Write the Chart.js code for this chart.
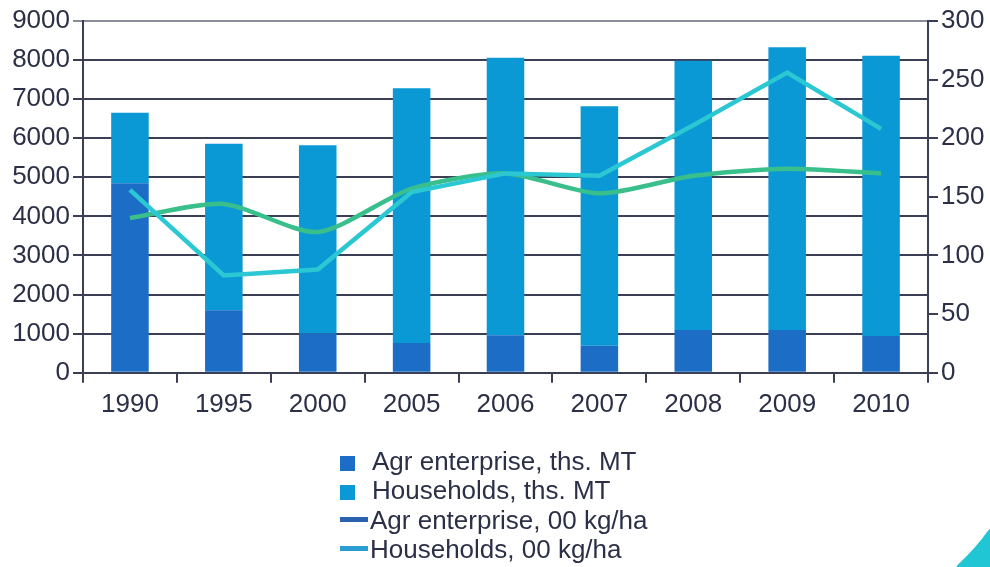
<!DOCTYPE html>
<html>
<head>
<meta charset="utf-8">
<script src="https://cdn.jsdelivr.net/npm/chart.js@4.4.1/dist/chart.umd.min.js"></script>
<style>
  html, body { margin: 0; padding: 0; background: #fff; }
  #wrap { position: relative; width: 990px; height: 567px; overflow: hidden; }
  #c { position: absolute; left: 0; top: 0; }
  #legend { position: absolute; left: 340px; top: 447px; font-family: "Liberation Sans", Arial, sans-serif; font-size: 26px; color: #2b3047; }
  .item { height: 29.3px; line-height: 29.3px; white-space: nowrap; position: relative; }
  .sq { display: inline-block; width: 15px; height: 15px; margin-right: 17px; vertical-align: -1px; }
  .ln { display: inline-block; width: 28px; height: 5px; margin-right: 2px; vertical-align: 7px; }
  #corner { position: absolute; left: 950px; top: 520px; width: 40px; height: 47px; background: #20c6d3;
            clip-path: polygon(100% 18%, 92% 26%, 80% 40%, 60% 60%, 40% 78%, 22% 93%, 15% 100%, 100% 100%); }
</style>
</head>
<body>
<div id="wrap">
  <canvas id="c" width="990" height="567"></canvas>
  <div id="legend"></div>
  <div id="corner"></div>
</div>
<script>
const categories = ['1990','1995','2000','2005','2006','2007','2008','2009','2010'];
const agrTons = [4850, 1600, 1000, 760, 960, 690, 1090, 1090, 940];
const hhTons = [1800, 4260, 4820, 6520, 7100, 6130, 6890, 7240, 7170];
const agrKgHa = [132, 144, 120, 157, 170, 153, 168, 174, 170];
const hhKgHa = [156, 83, 88, 154, 170, 168, 211, 256, 208];
const leftTicks = [0, 1000, 2000, 3000, 4000, 5000, 6000, 7000, 8000, 9000];
const rightTicks = [0, 50, 100, 150, 200, 250, 300];

const seriesNames = ['Agr enterprise, ths. MT', 'Households, ths. MT', 'Agr enterprise, 00 kg/ha', 'Households, 00 kg/ha'];
const barColors = ['#1b6dc6', '#0b99d6'];
const lineColors = ['#38bf8b', '#2bc7d2'];
const legendColors = ['#1b6dc6', '#0b99d6', '#2a62ae', '#2a9ed4'];

const txt = '#2b3047';
const grid = '#3a3f55';
const font = { family: '"Liberation Sans", Arial, sans-serif', size: 26 };

new Chart(document.getElementById('c'), {
  data: {
    labels: categories,
    datasets: [
      { type: 'line', label: seriesNames[3], data: hhKgHa, yAxisID: 'y2', borderColor: lineColors[1], borderWidth: 4.5, pointRadius: 0, tension: 0, order: 1 },
      { type: 'line', label: seriesNames[2], data: agrKgHa, yAxisID: 'y2', borderColor: lineColors[0], borderWidth: 4.5, pointRadius: 0, tension: 0.25, order: 2 },
      { type: 'bar', label: seriesNames[0], data: agrTons, yAxisID: 'y', backgroundColor: barColors[0], stack: 's', barPercentage: 0.5, categoryPercentage: 0.8, order: 3 },
      { type: 'bar', label: seriesNames[1], data: hhTons, yAxisID: 'y', backgroundColor: barColors[1], stack: 's', barPercentage: 0.5, categoryPercentage: 0.8, order: 4 }
    ]
  },
  options: {
    responsive: false,
    animation: false,
    devicePixelRatio: 1,
    layout: { padding: { top: 21, left: 0, right: 0, bottom: 0 } },
    plugins: { legend: { display: false }, tooltip: { enabled: false } },
    scales: {
      x: {
        stacked: true,
        offset: true,
        grid: { offset: true, drawOnChartArea: false, drawTicks: true, tickLength: 10, color: grid, lineWidth: 2 },
        border: { color: grid, width: 2 },
        ticks: { color: txt, font: font, padding: 7, maxRotation: 0 },
        afterFit: (s) => { s.height = 194.3; }
      },
      y: {
        position: 'left',
        stacked: true,
        min: 0, max: 9000,
        afterBuildTicks: (s) => { s.ticks = leftTicks.map(v => ({ value: v })); },
        grid: { color: (ctx) => ctx.tick && ctx.tick.value === 9000 ? '#8a8d99' : grid, lineWidth: 2, tickLength: 10, drawTicks: true },
        border: { color: grid, width: 2 },
        ticks: { color: txt, font: font, padding: 3, callback: (v) => String(v) },
        afterFit: (s) => { s.width = 83; }
      },
      y2: {
        position: 'right',
        min: 0, max: 300,
        afterBuildTicks: (s) => { s.ticks = rightTicks.map(v => ({ value: v })); },
        grid: { drawOnChartArea: false, color: grid, lineWidth: 2, tickLength: 10 },
        border: { color: grid, width: 2 },
        ticks: { color: txt, font: font, padding: 3, callback: (v) => String(v) },
        afterFit: (s) => { s.width = 62; }
      }
    }
  }
});

const legend = document.getElementById('legend');
seriesNames.forEach((name, i) => {
  const d = document.createElement('div');
  d.className = 'item';
  const m = document.createElement('span');
  m.className = i < 2 ? 'sq' : 'ln';
  m.style.background = legendColors[i];
  d.appendChild(m);
  d.appendChild(document.createTextNode(name));
  legend.appendChild(d);
});
</script>
</body>
</html>
